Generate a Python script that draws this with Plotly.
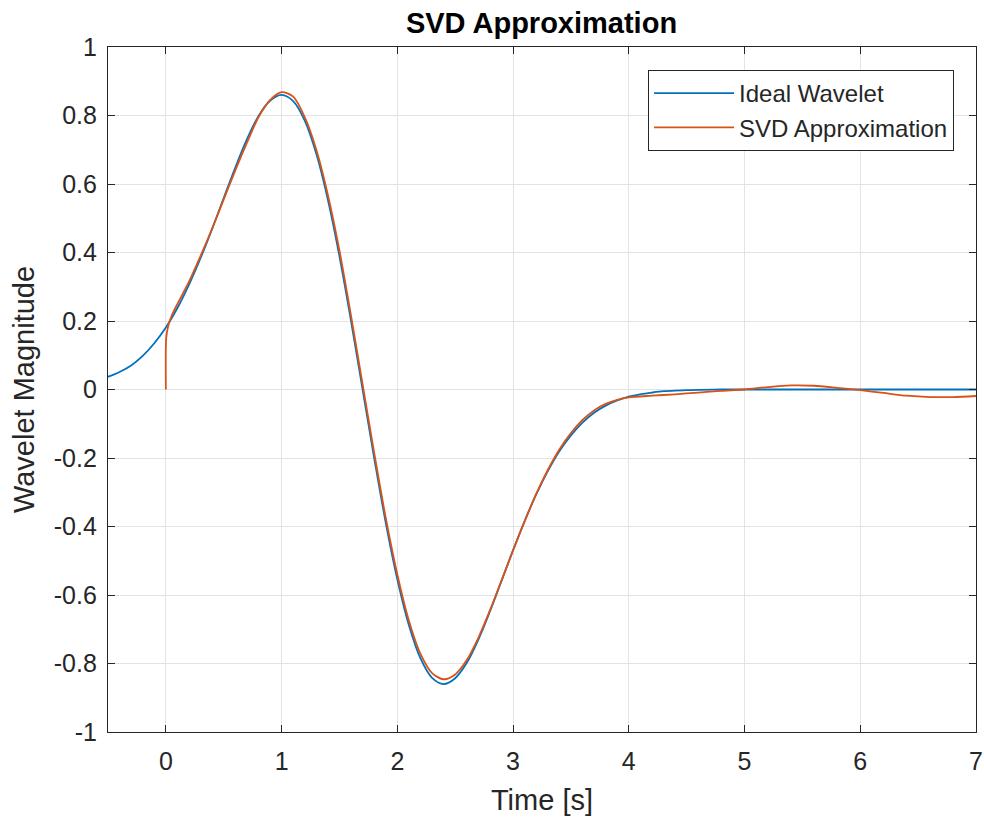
import plotly.graph_objects as go

# Ideal wavelet, sampled every 0.1 s over the active part
t_ideal = [-0.5, -0.4, -0.3, -0.2, -0.1, 0.0, 0.1, 0.2, 0.3, 0.4, 0.5, 0.6, 0.7,
           0.8, 0.9, 1.0, 1.1, 1.2, 1.3, 1.4, 1.5, 1.6, 1.7, 1.8, 1.9, 2.0,
           2.1, 2.2, 2.3, 2.4, 2.5, 2.6, 2.7, 2.8, 2.9, 3.0, 3.1, 3.2, 3.3,
           3.4, 3.5, 3.6, 3.7, 3.8, 3.9, 4.0, 4.1, 4.2, 4.3, 4.4, 4.5, 4.6,
           4.8, 5.0, 5.5, 6.0, 6.5, 7.0]
ideal_wavelet = [0.037, 0.051, 0.070, 0.098, 0.135, 0.181, 0.238, 0.306, 0.384,
                 0.469, 0.559, 0.648, 0.730, 0.798, 0.843, 0.860, 0.842, 0.785,
                 0.688, 0.554, 0.389, 0.200, 0.0, -0.200, -0.389, -0.554,
                 -0.688, -0.785, -0.842, -0.860, -0.843, -0.798, -0.730, -0.648,
                 -0.559, -0.469, -0.384, -0.306, -0.238, -0.180, -0.134, -0.097,
                 -0.068, -0.047, -0.032, -0.021, -0.014, -0.009, -0.005, -0.003,
                 -0.002, -0.001, 0.0, 0.0, 0.0, 0.0, 0.0, 0.0]

# SVD reconstruction (starts at t = 0)
t_svd = [0.0, 0.003, 0.02, 0.05, 0.1, 0.2, 0.3, 0.4, 0.5, 0.6, 0.7, 0.8, 0.9,
         1.0, 1.1, 1.2, 1.3, 1.4, 1.5, 1.6, 1.7, 1.8, 1.9, 2.0, 2.1, 2.2,
         2.3, 2.4, 2.5, 2.6, 2.7, 2.8, 2.9, 3.0, 3.1, 3.2, 3.3, 3.4, 3.5,
         3.6, 3.7, 3.8, 3.9, 4.0, 4.2, 4.4, 4.6, 4.8, 5.0, 5.2, 5.4, 5.6,
         5.8, 6.0, 6.2, 6.4, 6.6, 6.8, 7.0]
svd_approx = [0.0, 0.150, 0.185, 0.215, 0.250, 0.315, 0.390, 0.470, 0.555,
              0.640, 0.720, 0.795, 0.845, 0.868, 0.855, 0.795, 0.700, 0.568,
              0.405, 0.215, 0.015, -0.185, -0.375, -0.540, -0.675, -0.772,
              -0.828, -0.846, -0.832, -0.790, -0.725, -0.645, -0.558, -0.470,
              -0.385, -0.305, -0.235, -0.175, -0.127, -0.089, -0.061, -0.042,
              -0.030, -0.023, -0.018, -0.014, -0.009, -0.004, 0.0, 0.007,
              0.012, 0.011, 0.005, -0.002, -0.010, -0.018, -0.022, -0.022,
              -0.019]

x_ticks = [0, 1, 2, 3, 4, 5, 6, 7]
y_ticks = [-1, -0.8, -0.6, -0.4, -0.2, 0, 0.2, 0.4, 0.6, 0.8, 1]
y_tick_text = ["-1", "-0.8", "-0.6", "-0.4", "-0.2", "0", "0.2", "0.4", "0.6", "0.8", "1"]

FONT = "Liberation Sans, Arial, Helvetica, sans-serif"
INK = "#262626"

fig = go.Figure()
fig.add_trace(go.Scatter(
    x=t_ideal, y=ideal_wavelet, mode="lines", name="Ideal Wavelet",
    line=dict(color="#0072BD", width=1.8, shape="spline", smoothing=1),
))
fig.add_trace(go.Scatter(
    x=t_svd, y=svd_approx, mode="lines", name="SVD Approximation",
    line=dict(color="#D95319", width=1.8, shape="spline", smoothing=0.8),
))

axis_common = dict(
    showline=True, linecolor=INK, linewidth=1.2, mirror="ticks",
    ticks="inside", ticklen=7, tickcolor=INK, tickwidth=1.2,
    showgrid=True, gridcolor="#e3e3e3", gridwidth=1,
    zeroline=False, automargin=False,
    tickfont=dict(family=FONT, size=25, color=INK),
)

fig.update_layout(
    width=984, height=819,
    margin=dict(l=108, r=8, t=47, b=87),
    paper_bgcolor="white", plot_bgcolor="white",
    title=dict(text="<b>SVD Approximation</b>", x=0.5503, xanchor="center",
               xref="container", yref="container",
               y=0.972, yanchor="middle",
               font=dict(family=FONT, size=29, color="black")),
    xaxis=dict(range=[-0.5, 7], tickvals=x_ticks, ticklabelstandoff=7,
               title=dict(text="Time [s]", standoff=15,
                          font=dict(family=FONT, size=29, color=INK)),
               **axis_common),
    yaxis=dict(range=[-1, 1], tickvals=y_ticks, ticktext=y_tick_text,
               ticklabelstandoff=5,
               title=dict(text="Wavelet Magnitude", standoff=10,
                          font=dict(family=FONT, size=29, color=INK)),
               **axis_common),
    legend=dict(x=0.9747, xanchor="right", y=0.9664, yanchor="top",
                bgcolor="white", bordercolor=INK, borderwidth=1,
                font=dict(family=FONT, size=24, color=INK),
                tracegroupgap=0, itemwidth=80),
    showlegend=True,
)

fig.write_html("out.html")
